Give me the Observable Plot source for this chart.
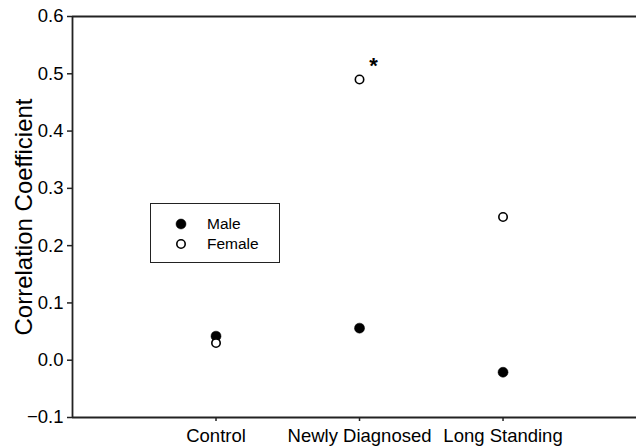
<!DOCTYPE html>
<html>
<head>
<meta charset="utf-8">
<script src="https://cdn.jsdelivr.net/npm/d3@7"></script>
<script src="https://cdn.jsdelivr.net/npm/@observablehq/plot@0.6"></script>
<style>
  html, body { margin: 0; padding: 0; background: #fff; }
  #wrap { position: relative; width: 636px; height: 446px; }
  #legend {
    position: absolute; left: 150px; top: 203px; width: 128px; height: 58px;
    border: 1.5px solid #222; background: #fff;
    font-family: "Liberation Sans", Arial, sans-serif; font-size: 15.5px; color: #000;
  }
  #legend .row { position: absolute; left: 0; display: flex; align-items: center; }
  #legend svg { display: block; }
</style>
</head>
<body>
<div id="wrap"></div>
<script>
const categories = ["Control", "Newly Diagnosed", "Long Standing"];
const maleValues = [0.042, 0.056, -0.021];
const femaleValues = [0.030, 0.490, 0.250];
const significance = [{category: "Newly Diagnosed", value: 0.49, label: "*"}];
const yTicks = [-0.1, 0.0, 0.1, 0.2, 0.3, 0.4, 0.5, 0.6];
const seriesNames = ["Male", "Female"];

const pos = c => categories.indexOf(c) + 1;
const male = categories.map((c, i) => ({category: c, value: maleValues[i]}));
const female = categories.map((c, i) => ({category: c, value: femaleValues[i]}));

const ink = "#222";
const chart = Plot.plot({
  width: 636,
  height: 446,
  marginLeft: 72,
  marginRight: 0,
  marginTop: 16,
  marginBottom: 29,
  style: {fontFamily: "Liberation Sans, Arial, sans-serif", color: "#000", background: "#fff", overflow: "visible"},
  x: {type: "linear", domain: [0, 3.93]},
  y: {domain: [-0.1, 0.6]},
  marks: [
    Plot.axisY({ticks: yTicks, tickFormat: d3.format(".1f"), tickSize: 5, tickPadding: 4,
      fontSize: 18.5, stroke: ink, strokeWidth: 1.5,
      label: "Correlation Coefficient", labelAnchor: "center", labelArrow: "none", labelOffset: 58}),
    Plot.axisX({ticks: [1, 2, 3], tickFormat: i => categories[i - 1], tickSize: 4, tickPadding: 7,
      fontSize: 18.5, stroke: ink, strokeWidth: 1.5, label: null}),
    Plot.ruleY([-0.1, 0.6], {stroke: ink, strokeWidth: 1.8}),
    Plot.ruleX([0], {stroke: ink, strokeWidth: 1.8}),
    Plot.dot(male, {x: d => pos(d.category), y: "value", r: 5, fill: "#000", stroke: "#000", strokeWidth: 0.5}),
    Plot.dot(female, {x: d => pos(d.category), y: "value", r: 4.2, fill: "#fff", stroke: "#000", strokeWidth: 1.6}),
    Plot.text(significance, {x: d => pos(d.category), y: "value", text: "label", dx: 14, dy: -14,
      fontSize: 22, fontWeight: "bold", fill: "#000"})
  ]
});
chart.querySelectorAll("g[aria-label='y-axis label'] text").forEach(t => t.setAttribute("font-size", 24));
const wrap = document.getElementById("wrap");
wrap.appendChild(chart);

const legend = document.createElement("div");
legend.id = "legend";
seriesNames.forEach((name, i) => {
  const row = document.createElement("div");
  row.className = "row";
  row.style.top = (11 + i * 20) + "px";
  const filled = i === 0;
  row.innerHTML = `<svg width="56" height="18"><circle cx="30" cy="9" r="${filled ? 5 : 4.2}" fill="${filled ? "#000" : "#fff"}" stroke="#000" stroke-width="${filled ? 0.5 : 1.6}"/></svg><span>${name}</span>`;
  legend.appendChild(row);
});
wrap.appendChild(legend);
</script>
</body>
</html>
